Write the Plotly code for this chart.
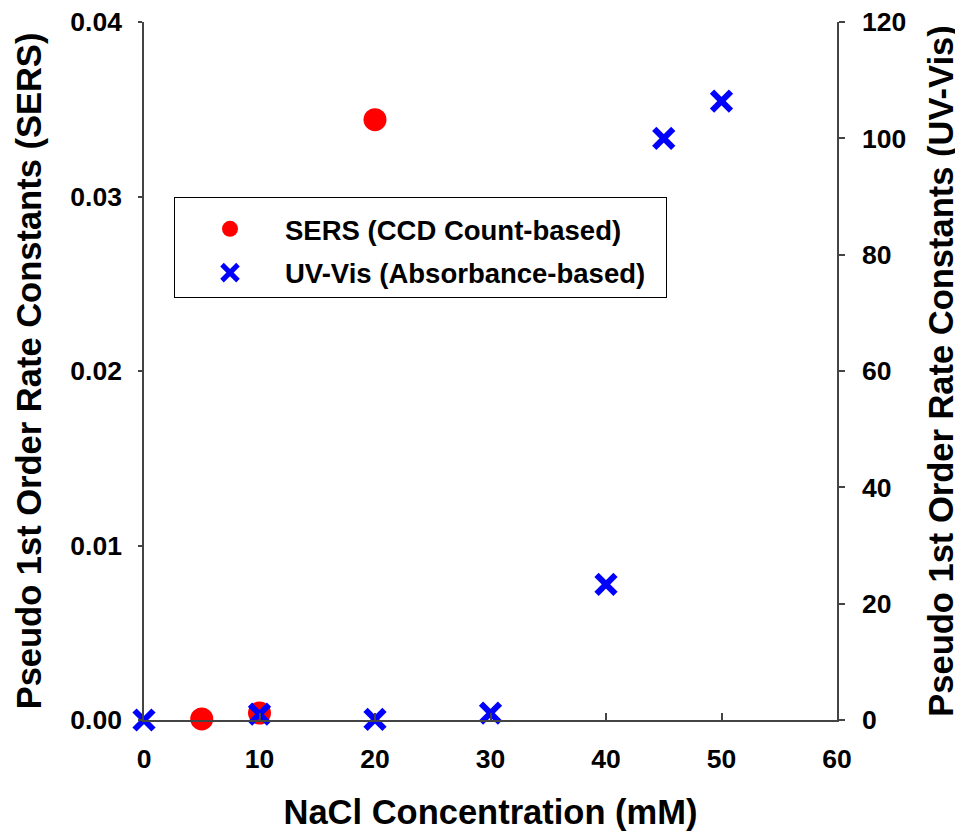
import plotly.graph_objects as go

sers_x = [5, 10, 20]
sers_y = [0.00006, 0.0004, 0.0344]
uv_x = [0, 10, 20, 30, 40, 45, 50]
uv_y = [0.0, 1.0, 0.1, 1.2, 23.3, 100.0, 106.4]

FONT = "Liberation Sans, Arial, sans-serif"
NB = "\u00a0"

fig = go.Figure()
fig.add_trace(go.Scatter(
    x=sers_x, y=sers_y, mode="markers", name="<b>SERS (CCD Count-based)</b>" + NB * 2,
    legendgroup="a", cliponaxis=False,
    marker=dict(symbol="circle", size=23, color="#ff0000", line=dict(width=0)),
    yaxis="y"))
fig.add_trace(go.Scatter(
    x=uv_x, y=uv_y, mode="markers", name="<b>UV-Vis (Absorbance-based)</b>" + NB * 2,
    legendgroup="b", cliponaxis=False,
    marker=dict(symbol="x-thin", size=19, color="#0000ff", line=dict(width=6, color="#0000ff")),
    yaxis="y2"))

axis_common = dict(showgrid=False, zeroline=False, showline=True, linecolor="#444444",
                   linewidth=1.5, tickcolor="#444444", tickwidth=1.5, automargin=False,
                   ticklabeloverflow="allow",
                   tickfont=dict(family=FONT, size=26.5, color="black"),
                   tickprefix="<b>", ticksuffix="</b>")

TFONT = dict(family=FONT, size=34.5, color="black")

# page body has an 8px margin, so the figure is sized 8px smaller
fig.update_layout(
    width=955, height=823,
    margin=dict(l=136, r=126, t=14, b=111),
    paper_bgcolor="white", plot_bgcolor="white",
    font=dict(family=FONT, color="black"),
    xaxis=dict(range=[0, 60], dtick=10, ticks="inside", ticklen=7, ticklabelstandoff=14,
               title=dict(text="<b>NaCl Concentration (mM)</b>", font=TFONT, standoff=33),
               **axis_common),
    yaxis=dict(range=[0, 0.04], dtick=0.01, tickformat=".2f", ticks="outside", ticklen=4,
               ticklabelstandoff=11,
               title=dict(text="<b>Pseudo 1st Order Rate Constants (SERS)</b>", font=TFONT, standoff=18),
               **axis_common),
    yaxis2=dict(range=[0, 120], dtick=20, ticks="outside", ticklen=6, overlaying="y", side="right",
                ticklabelstandoff=12,
                title=dict(text="<b>Pseudo 1st Order Rate Constants (UV-Vis)</b>", font=TFONT, standoff=24),
                **axis_common),
    showlegend=True,
    legend=dict(x=0.0433, y=0.7493, xanchor="left", yanchor="top",
                bordercolor="black", borderwidth=1, bgcolor="white",
                font=dict(family=FONT, size=27.5, color="black"),
                title=dict(text=NB, font=dict(size=5)),
                itemwidth=100, traceorder="grouped", tracegroupgap=5),
    shapes=[dict(type="line", xref="paper", yref="paper", x0=1, x1=1 + 7 / 693, y0=0, y1=0,
                 line=dict(color="#444444", width=1.5))],
)

fig.write_html("out.html")
